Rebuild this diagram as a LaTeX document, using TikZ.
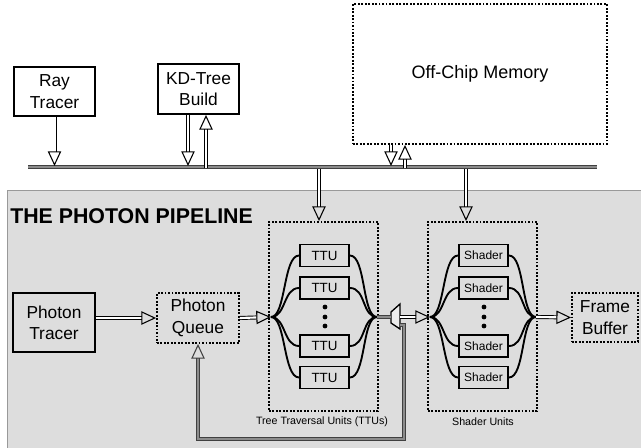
\documentclass[tikz,border=0pt]{standalone}
\usepackage{fontspec}
\setmainfont{Liberation Sans}
\usetikzlibrary{arrows.meta}
\definecolor{bg}{HTML}{DDDDDD}
\begin{document}
\begin{tikzpicture}[x=0.75pt,y=-0.75pt,
  box/.style={draw, line width=1.4pt, align=center, inner sep=0pt, font=\fontsize{13}{16}\selectfont},
  dbox/.style={draw, line width=1.4pt, dash pattern=on 1.4pt off 1.2pt, align=center, inner sep=0pt, font=\fontsize{13}{16}\selectfont},
  unitbox/.style={draw, line width=1.4pt, minimum width=36.75pt, minimum height=16.5pt, inner sep=0pt},
  fan/.style={line width=1.4pt},
  tip/.style={-{Triangle[open,length=11pt,width=10pt,line width=0.8pt]}},
  darrow/.style={draw=black, double=white, double distance=1.6pt, line width=0.7pt, tip},
  dline/.style={draw=black!75, double=black!45, double distance=1.8pt, line width=0.7pt},
  lbl/.style={font=\fontsize{8}{10}\selectfont, inner sep=0pt}
]
\useasboundingbox (0,0) rectangle (641,448);
% background region
\fill[bg, draw=black!40, line width=0.6pt] (7,190) rectangle (660,470);

% top nodes
\node[box, minimum width=60.75pt, minimum height=36.75pt] (rt) at (54.5,91.5) {Ray\\Tracer};
\node[box, minimum width=60.75pt, minimum height=37.5pt] (kd) at (198.5,89) {KD-Tree\\Build};
\node[dbox, minimum width=190.5pt, minimum height=105pt, font=\fontsize{13.5}{16}\selectfont] (mem) at (480,74) {Off-Chip Memory};

% bus
\coordinate (busL) at (28,167);
\coordinate (busR) at (597,167);
\draw[dline] (busL) -- (busR);

% pipeline title
\node[anchor=base west, inner sep=0pt, font=\fontsize{16}{18}\bfseries\selectfont] (title) at (10,224) {THE PHOTON PIPELINE};

% pipeline nodes
\node[box, minimum width=61.5pt, minimum height=44.25pt] (pt) at (54,322.5) {Photon\\Tracer};
\node[dbox, minimum width=61.5pt, minimum height=37.5pt] (pq) at (198,318) {Photon\\Queue};
\node[dbox, minimum width=81.75pt, minimum height=141.75pt] (ttu) at (323.5,316.5) {};
\node[dbox, minimum width=81.75pt, minimum height=141.75pt] (sh) at (482.5,316.5) {};
\node[dbox, minimum width=49.5pt, minimum height=36.75pt] (fb) at (605,317.5) {Frame\\Buffer};

\node[lbl] (ttulbl) at (322,422) {Tree Traversal Units (TTUs)};
\node[lbl] (shlbl) at (483,422) {Shader Units};

% TTU and shader units
\foreach \n/\y in {1/255.5,2/288,3/346,4/377.5}{
  \node[unitbox, font=\fontsize{10}{12}\selectfont] (t\n) at (324.5,\y) {TTU};
  \node[unitbox, font=\fontsize{9}{11}\selectfont] (s\n) at (483.5,\y) {Shader};
}
\foreach \y in {307,317,326}{
  \fill (325,\y) circle (1.8pt);
  \fill (484,\y) circle (1.8pt);
}

% fan points
\coordinate (tL) at (271,317);
\coordinate (tR) at (377,317);
\coordinate (sL) at (430,317);
\coordinate (sR) at (536,317);
\foreach \n in {1,...,4}{
  \draw[fan] (tL) .. controls +(15,0) and +(-16,0) .. (t\n.west);
  \draw[fan] (t\n.east) .. controls +(16,0) and +(-15,0) .. (tR);
  \draw[fan] (sL) .. controls +(15,0) and +(-16,0) .. (s\n.west);
  \draw[fan] (s\n.east) .. controls +(16,0) and +(-15,0) .. (sR);
}

% mux
\coordinate (muxin) at (391,317);
\coordinate (muxout) at (400,317);
\coordinate (muxfb) at (400,325);
\draw[line width=1pt, fill=gray!15] (391,312) -- (400,304) -- (400,329) -- (391,323) -- cycle;

% bus connections
\coordinate (rtbus) at (rt.south |- busL);
\coordinate (kdD) at (188,167);
\coordinate (kdU) at (206,167);
\coordinate (memD) at (391,167);
\coordinate (memU) at (405,167);
\coordinate (ttubus) at (319,169);
\coordinate (shbus) at (466,169);

\draw[darrow] (rt.south) -- ([yshift=0.75pt]rtbus);
\draw[darrow] (kd.south -| kdD) -- ([yshift=0.75pt]kdD);
\draw[darrow] ([yshift=-1pt]kdU) -- (kd.south -| kdU);
\draw[darrow] (mem.south -| memD) -- ([yshift=0.75pt]memD);
\draw[darrow] ([yshift=-1pt]memU) -- (mem.south -| memU);
\draw[darrow] (ttubus) -- (ttu.north -| ttubus);
\draw[darrow] (shbus) -- (sh.north -| shbus);

% pipeline connections
\draw[darrow] (pt.east |- pq.west) -- (pq.west);
\draw[darrow] (pq.east) -- (tL);
\draw[dline] (tR) -- (muxin);
\draw[darrow] (muxout) -- (sL);
\draw[darrow] (sR) -- (fb.west);
\draw[dline, tip] (muxfb) -- (404,325) -- (404,439) -- (pq.south |- 0,439) -- (pq.south);
\end{tikzpicture}
\end{document}
